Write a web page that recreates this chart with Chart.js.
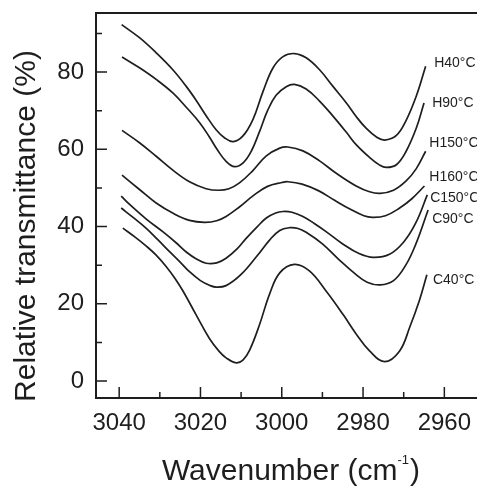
<!DOCTYPE html>
<html>
<head>
<meta charset="utf-8">
<script src="https://cdn.jsdelivr.net/npm/chart.js@4.4.1/dist/chart.umd.min.js"></script>
<style>
  html, body { margin: 0; padding: 0; background: #fff; }
  #wrap { width: 477px; height: 491px; overflow: hidden; background: #fff; }
  #spectra { display: block; }
</style>
</head>
<body>
<div id="wrap"><canvas id="spectra" width="486" height="491"></canvas></div>
<script>
// wavenumber (cm-1) / relative transmittance (%), one pair per curve
const xH40 = [3039.4, 3035.0, 3030.9, 3026.8, 3023.5, 3021.0, 3018.6, 3016.1, 3014.1, 3012.0, 3009.6, 3007.1, 3004.6, 3002.2, 2999.7, 2996.9, 2994.0, 2990.7, 2987.4, 2984.1, 2981.7, 2979.2, 2976.7, 2974.7, 2971.8, 2969.4, 2966.9, 2964.6];
const yH40 = [92.3, 88.9, 85.0, 80.6, 76.3, 72.6, 68.7, 65.0, 63.0, 62.0, 63.4, 67.7, 75.0, 81.0, 84.0, 84.8, 83.7, 80.6, 76.3, 72.0, 68.5, 65.4, 63.2, 62.4, 63.6, 67.5, 73.8, 81.5];

const xH90 = [3039.3, 3035.0, 3030.9, 3026.8, 3023.5, 3020.2, 3017.8, 3015.8, 3013.7, 3011.6, 3009.5, 3007.5, 3005.5, 3003.5, 3001.4, 2998.9, 2996.9, 2994.0, 2990.7, 2987.4, 2984.1, 2981.7, 2978.4, 2975.9, 2974.3, 2971.8, 2969.4, 2966.9, 2965.0];
const yH90 = [83.9, 81.1, 78.1, 74.6, 70.9, 66.9, 63.2, 59.8, 56.9, 55.5, 56.5, 59.5, 64.5, 70.0, 74.0, 76.2, 76.8, 75.6, 72.5, 68.6, 64.4, 61.2, 57.9, 55.9, 55.3, 56.0, 59.5, 65.5, 72.0];

const xH150 = [3039.3, 3035.0, 3030.9, 3026.8, 3022.7, 3018.6, 3015.5, 3013.0, 3010.4, 3007.1, 3003.8, 3000.5, 2998.5, 2994.8, 2990.7, 2986.6, 2981.7, 2978.4, 2975.8, 2972.5, 2969.4, 2966.9, 2964.6];
const yH150 = [64.9, 61.7, 58.2, 54.6, 51.6, 49.8, 49.4, 49.8, 51.3, 54.5, 58.3, 60.3, 60.6, 59.6, 57.0, 53.8, 50.5, 49.0, 48.6, 49.4, 51.8, 55.0, 59.5];

const xH160 = [3039.3, 3035.0, 3030.9, 3026.5, 3022.7, 3019.0, 3016.0, 3013.7, 3010.5, 3007.0, 3003.5, 3000.0, 2998.5, 2995.0, 2991.0, 2987.0, 2983.0, 2979.8, 2977.7, 2974.5, 2971.0, 2968.0, 2964.9];
const yH160 = [53.3, 49.6, 46.1, 43.3, 41.6, 41.1, 41.5, 42.6, 45.0, 48.0, 50.4, 51.4, 51.6, 51.0, 49.3, 46.8, 44.4, 42.8, 42.4, 42.8, 44.8, 47.2, 50.5];

const xC150 = [3039.5, 3037.5, 3033.4, 3029.2, 3026.0, 3023.5, 3021.0, 3018.6, 3016.0, 3013.7, 3011.0, 3008.7, 3006.0, 3003.8, 3001.5, 2999.7, 2997.5, 2994.8, 2992.0, 2989.1, 2985.0, 2981.0, 2977.5, 2973.5, 2970.0, 2967.0, 2964.2];
const yC150 = [47.9, 45.8, 42.0, 38.6, 35.8, 33.4, 31.6, 30.5, 30.6, 31.8, 34.2, 37.0, 40.0, 42.2, 43.5, 43.9, 43.7, 42.6, 40.8, 38.7, 35.5, 33.0, 32.0, 32.8, 36.0, 41.0, 48.2];

const xC90 = [3039.5, 3036.5, 3033.4, 3030.5, 3027.6, 3025.0, 3022.7, 3020.0, 3017.8, 3016.1, 3013.7, 3010.0, 3006.0, 3003.0, 3000.5, 2998.1, 2996.0, 2994.0, 2990.0, 2986.0, 2982.0, 2979.0, 2975.8, 2972.5, 2969.5, 2967.0, 2964.0];
const yC90 = [44.8, 42.3, 39.6, 36.6, 33.5, 30.8, 28.3, 26.0, 24.8, 24.3, 24.7, 27.6, 32.5, 36.5, 39.0, 39.7, 39.5, 38.5, 35.5, 31.5, 27.8, 25.6, 24.9, 26.0, 30.0, 35.5, 44.3];

const xC40 = [3039.1, 3036.0, 3033.4, 3030.9, 3028.4, 3026.3, 3024.3, 3021.0, 3017.8, 3015.5, 3013.7, 3011.2, 3009.5, 3007.9, 3005.5, 3003.0, 3000.5, 2996.9, 2993.2, 2989.1, 2984.9, 2981.7, 2978.4, 2974.7, 2971.0, 2968.5, 2966.1, 2964.3];
const yC40 = [39.6, 37.2, 35.0, 32.6, 29.6, 26.6, 23.3, 17.0, 11.0, 7.8, 6.0, 4.7, 5.5, 8.0, 14.5, 22.5, 28.0, 30.2, 28.5, 23.3, 17.2, 12.2, 7.8, 5.0, 7.8, 14.0, 21.0, 27.5];

const curveNames = ["H40°C", "H90°C", "H150°C", "H160°C", "C150°C", "C90°C", "C40°C"];
const nameX = [2962.5, 2963.0, 2963.7, 2963.7, 2963.5, 2963.0, 2962.8];
const nameY = [82.2, 71.9, 61.7, 52.8, 47.4, 41.9, 26.2];

const xTicks = [3040, 3020, 3000, 2980, 2960];
const xMinorTicks = [3030, 3010, 2990, 2970];
const yTicks = [0, 20, 40, 60, 80];
const yMinorTicks = [10, 30, 50, 70, 90];

const xTitle = "Wavenumber (cm";
const xTitleSup = "-1";
const xTitleEnd = ")";
const yTitle = "Relative transmittance (%)";

const INK = "#1e1e1e";
const FONT = "'Liberation Sans', Arial, sans-serif";

const curves = [
    [xH40, yH40], [xH90, yH90], [xH150, yH150], [xH160, yH160],
    [xC150, yC150], [xC90, yC90], [xC40, yC40],
];

const datasets = curves.map(([xs, ys], i) => ({
    label: curveNames[i],
    data: xs.map((x, j) => ({ x: x, y: ys[j] })),
    borderColor: INK,
    borderWidth: 1.7,
    pointRadius: 0,
    fill: false,
    tension: 0.4,
}));

// frame, inward tick marks, curve names and axis titles
const decorations = {
    id: "decorations",
    afterDraw(chart) {
        const ctx = chart.ctx;
        const area = chart.chartArea;
        const xs = chart.scales.x;
        const ys = chart.scales.y;

        ctx.save();
        ctx.strokeStyle = INK;
        ctx.lineCap = "butt";

        ctx.lineWidth = 2;
        ctx.beginPath();
        ctx.moveTo(area.left, area.bottom);
        ctx.lineTo(area.left, area.top);
        ctx.lineTo(area.right, area.top);
        ctx.moveTo(area.left - 1, area.bottom);
        ctx.lineTo(area.right, area.bottom);
        ctx.stroke();

        ctx.lineWidth = 1.5;
        ctx.beginPath();
        xTicks.forEach((v) => {
            const px = xs.getPixelForValue(v);
            ctx.moveTo(px, area.bottom);
            ctx.lineTo(px, area.bottom - 11);
        });
        xMinorTicks.forEach((v) => {
            const px = xs.getPixelForValue(v);
            ctx.moveTo(px, area.bottom);
            ctx.lineTo(px, area.bottom - 6);
        });
        yTicks.forEach((v) => {
            const py = ys.getPixelForValue(v);
            ctx.moveTo(area.left, py);
            ctx.lineTo(area.left + 11, py);
        });
        yMinorTicks.forEach((v) => {
            const py = ys.getPixelForValue(v);
            ctx.moveTo(area.left, py);
            ctx.lineTo(area.left + 6, py);
        });
        ctx.stroke();

        ctx.fillStyle = INK;
        ctx.font = "14px " + FONT;
        ctx.textAlign = "left";
        ctx.textBaseline = "middle";
        curveNames.forEach((name, i) => {
            ctx.fillText(name, xs.getPixelForValue(nameX[i]), ys.getPixelForValue(nameY[i]));
        });

        // x title with superscript
        ctx.textBaseline = "alphabetic";
        const mainFont = "30px " + FONT;
        const supFont = "13px " + FONT;
        ctx.font = mainFont;
        const w1 = ctx.measureText(xTitle).width;
        const w3 = ctx.measureText(xTitleEnd).width;
        ctx.font = supFont;
        const w2 = ctx.measureText(xTitleSup).width;
        let tx = 291 - (w1 + w2 + w3 + 1) / 2;
        const base = 480;
        ctx.font = mainFont;
        ctx.fillText(xTitle, tx, base);
        tx += w1;
        ctx.font = supFont;
        ctx.fillText(xTitleSup, tx, base - 16);
        tx += w2 + 1;
        ctx.font = mainFont;
        ctx.fillText(xTitleEnd, tx, base);

        // y title, rotated
        ctx.translate(35, 226);
        ctx.rotate(-Math.PI / 2);
        ctx.textAlign = "center";
        ctx.font = "30px " + FONT;
        ctx.fillText(yTitle, 0, 0);
        ctx.restore();
    },
};

const config = {
    type: "line",
    data: { datasets: datasets },
    options: {
        responsive: false,
        devicePixelRatio: 1,
        animation: false,
        layout: { padding: { left: 0, top: 13, right: 1, bottom: 0 } },
        plugins: {
            legend: { display: false },
            tooltip: { enabled: false },
        },
        scales: {
            x: {
                type: "linear",
                reverse: true,
                min: 2950,
                max: 3045.7,
                grid: { display: false, drawTicks: false },
                border: { display: false },
                ticks: {
                    color: INK,
                    font: { size: 24, family: FONT },
                    padding: 11,
                    autoSkip: false,
                    maxRotation: 0,
                    callback: (v) => String(v),
                },
                afterBuildTicks: (scale) => {
                    scale.ticks = xTicks.map((v) => ({ value: v }));
                },
                afterFit: (scale) => {
                    scale.height = 93;
                    scale.paddingLeft = 0;
                    scale.paddingRight = 0;
                },
            },
            y: {
                type: "linear",
                min: -4.4,
                max: 95.3,
                grid: { display: false, drawTicks: false },
                border: { display: false },
                ticks: {
                    color: INK,
                    font: { size: 24, family: FONT },
                    padding: 12,
                    autoSkip: false,
                    callback: (v) => String(v),
                },
                afterBuildTicks: (scale) => {
                    scale.ticks = yTicks.map((v) => ({ value: v }));
                },
                afterFit: (scale) => {
                    scale.width = 96;
                    scale.paddingTop = 0;
                    scale.paddingBottom = 0;
                },
            },
        },
    },
    plugins: [decorations],
};

new Chart(document.getElementById("spectra"), config);
</script>
</body>
</html>
